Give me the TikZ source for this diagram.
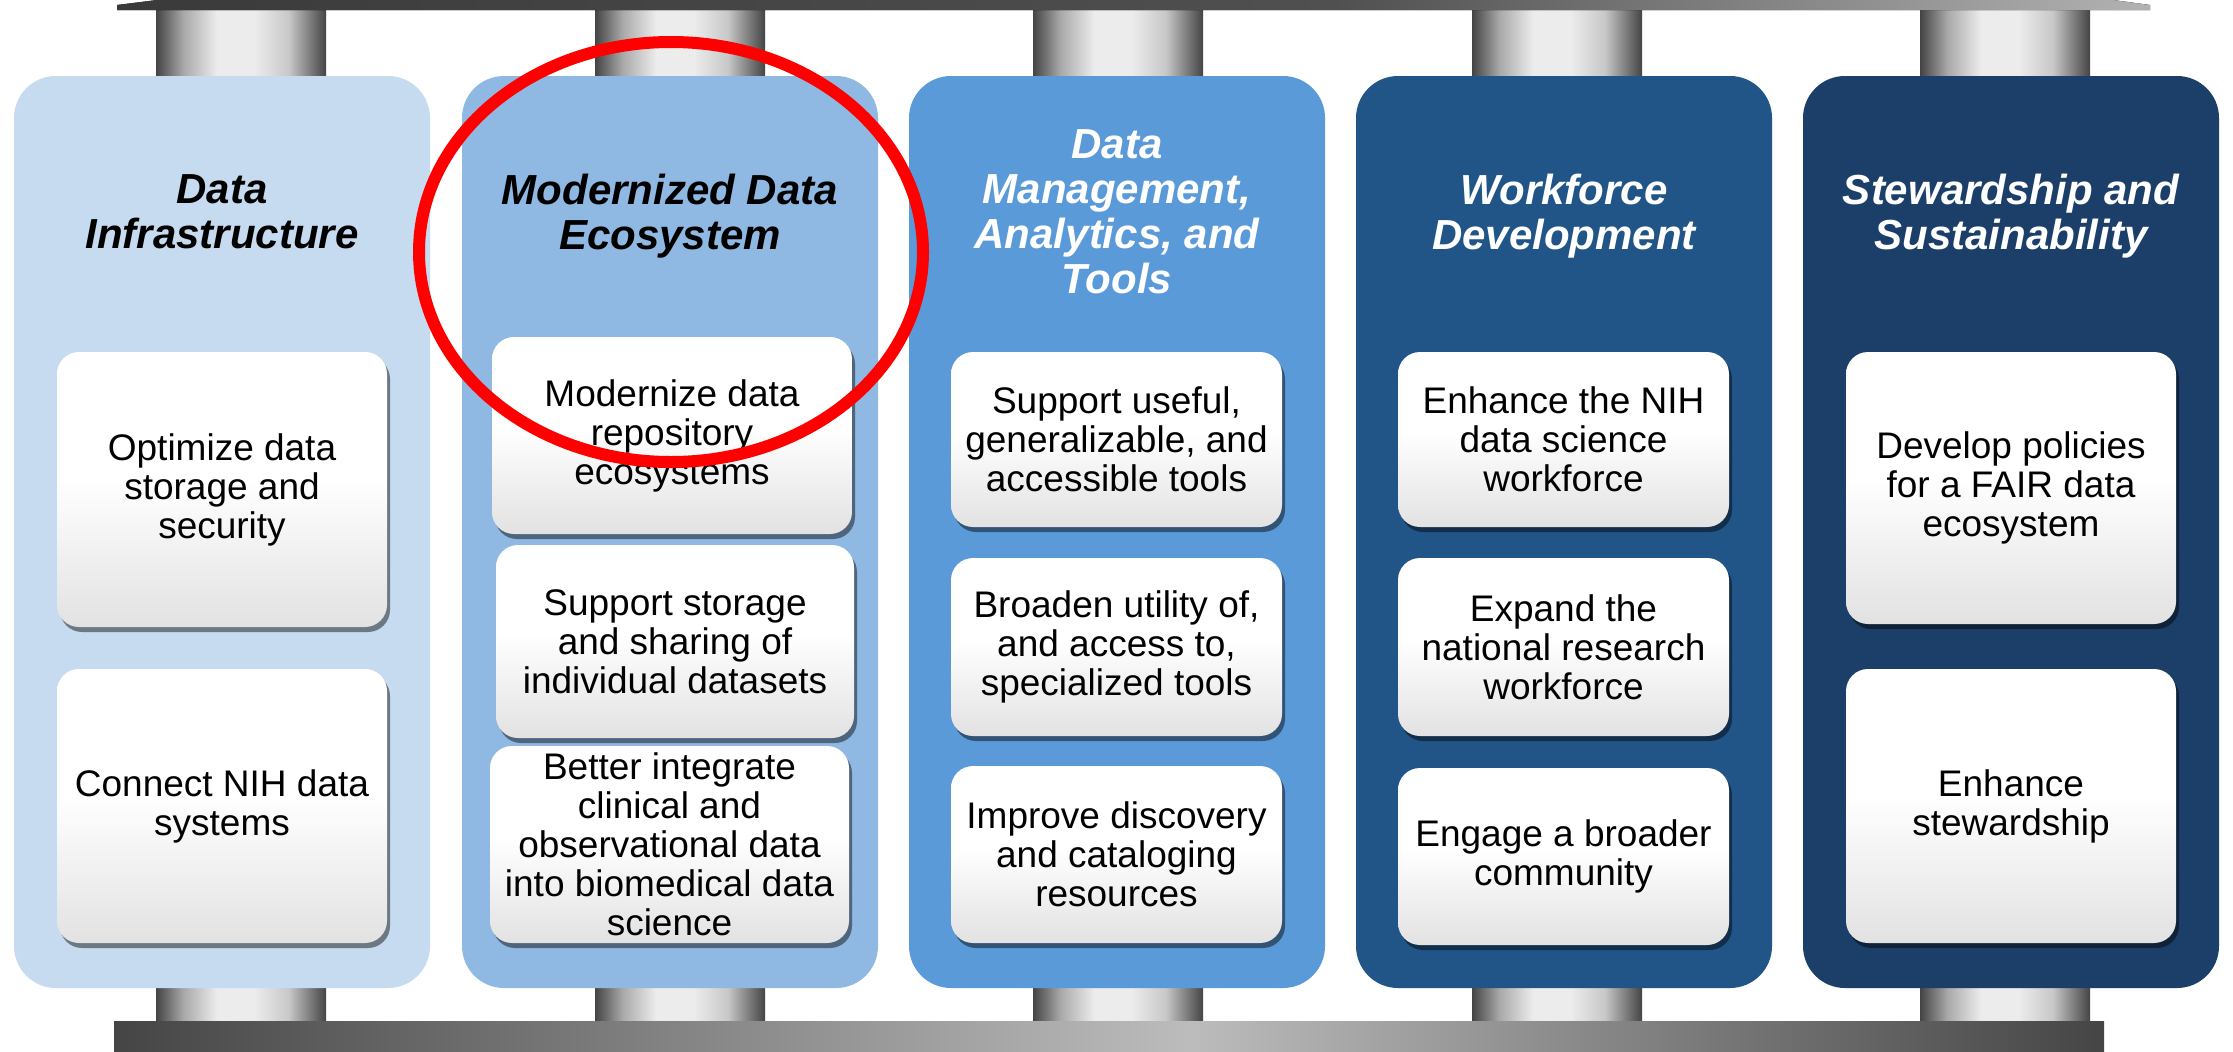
\documentclass[tikz,border=0pt]{standalone}
\usepackage{fontspec}
\setmainfont{Liberation Sans}
\usetikzlibrary{shadows,shapes.geometric}
\definecolor{cA}{HTML}{C6DBF0}
\definecolor{cB}{HTML}{8FB8E2}
\definecolor{cC}{HTML}{5B9AD8}
\definecolor{cD}{HTML}{215588}
\definecolor{cE}{HTML}{1C3F69}
\definecolor{pdark}{HTML}{444444}
\definecolor{pmid}{HTML}{A8A8A8}
\definecolor{plight}{HTML}{ECECEC}
\definecolor{pmidb}{HTML}{C8C8C8}
\definecolor{subbot}{HTML}{E2E2E2}
\definecolor{barA}{HTML}{3A3A3A}
\definecolor{barB}{HTML}{505050}
\definecolor{barC}{HTML}{B2B2B2}
\definecolor{botA}{HTML}{454545}
\definecolor{botB}{HTML}{BCBCBC}
\definecolor{ringred}{HTML}{FF0000}
\pgfdeclarehorizontalshading{pillarshade}{100bp}{color(0bp)=(pdark); color(25bp)=(pdark); color(33bp)=(pmid); color(43bp)=(plight); color(54bp)=(plight); color(64bp)=(pmidb); color(75bp)=(pdark); color(100bp)=(pdark)}
\pgfdeclarehorizontalshading{topbarshade}{100bp}{color(0bp)=(barA); color(25bp)=(barA); color(55bp)=(barB); color(75bp)=(barC); color(100bp)=(barC)}
\pgfdeclarehorizontalshading{botbarshade}{100bp}{color(0bp)=(botA); color(25bp)=(botA); color(52bp)=(botB); color(75bp)=(botA); color(100bp)=(botA)}
\pgfdeclareverticalshading{subshade}{100bp}{color(0bp)=(subbot); color(25bp)=(subbot); color(52bp)=(white); color(100bp)=(white)}
\tikzset{
  colbox/.style={rounded corners=42pt, minimum width=416pt, minimum height=912pt, inner sep=0pt, outer sep=0pt},
  pillar/.style={shading=pillarshade, minimum width=170pt, inner sep=0pt, outer sep=0pt},
  ttl/.style={align=center, font=\fontsize{42}{45}\selectfont\bfseries\itshape, inner sep=0pt},
  subbox/.style={shading=subshade, rounded corners=22pt, align=center, inner sep=0pt,
     font=\fontsize{37}{39}\selectfont,
     drop shadow={shadow xshift=3pt, shadow yshift=-5pt, opacity=0.45, fill=black}},
}
\begin{document}
\begin{tikzpicture}[x=1pt,y=-1pt]
\useasboundingbox (0,0) rectangle (2233,1052);
\fill[white] (0,0) rectangle (2233,1052);
% pillars
\foreach \px [count=\i] in {241,680,1118,1557,2005}{
  \node[pillar, minimum height=80pt] (ptop\i) at (\px,42) {};
  \node[pillar, minimum height=40pt] (pbot\i) at (\px,1003) {};
}
% bars
\fill[shading=topbarshade] (117,10) -- (117,5) -- (157,0) -- (2113,0) -- (2150,5) -- (2150,10) -- cycle;
\node[shading=botbarshade, minimum width=1990pt, minimum height=31pt, inner sep=0pt] (botbar) at (1109,1036.5) {};
% columns
\node[colbox, fill=cA] (col1) at (222,532) {};
\node[colbox, fill=cB] (col2) at (670,532) {};
\node[colbox, fill=cC] (col3) at (1117,532) {};
\node[colbox, fill=cD] (col4) at (1564,532) {};
\node[colbox, fill=cE] (col5) at (2011,532) {};
% titles
\node[ttl] (t1) at (222,212) {Data\\Infrastructure};
\node[ttl] (t2) at (670,216) {Modernized Data\\Ecosystem};
\node[ttl, text=white] (t3) at (1117,212) {Data\\Management,\\Analytics, and\\Tools};
\node[ttl, text=white] (t4) at (1564,216) {Workforce\\Development};
\node[ttl, text=white] (t5) at (2011,216) {Stewardship and\\Sustainability};
% column 1
\node[subbox, minimum width=330pt, minimum height=275pt] (b11) at (222,489.5) {Optimize data\\storage and\\security};
\node[subbox, minimum width=330pt, minimum height=274pt] (b12) at (222,806) {Connect NIH data\\systems};
% column 2
\node[subbox, minimum width=360pt, minimum height=197pt] (b21) at (672,435.5) {Modernize data\\repository\\ecosystems};
\node[subbox, minimum width=358pt, minimum height=193pt] (b22) at (675,641.5) {Support storage\\and sharing of\\individual datasets};
\node[subbox, minimum width=359pt, minimum height=197pt] (b23) at (669.5,844.5) {Better integrate\\clinical and\\observational data\\into biomedical data\\science};
% column 3
\node[subbox, minimum width=331pt, minimum height=175pt] (b31) at (1116.5,439.5) {Support useful,\\generalizable, and\\accessible tools};
\node[subbox, minimum width=331pt, minimum height=178pt] (b32) at (1116.5,647) {Broaden utility of,\\and access to,\\specialized tools};
\node[subbox, minimum width=331pt, minimum height=177pt] (b33) at (1116.5,854.5) {Improve discovery\\and cataloging\\resources};
% column 4
\node[subbox, minimum width=331pt, minimum height=175pt] (b41) at (1563.5,439.5) {Enhance the NIH\\data science\\workforce};
\node[subbox, minimum width=331pt, minimum height=178pt] (b42) at (1563.5,647) {Expand the\\national research\\workforce};
\node[subbox, minimum width=331pt, minimum height=177pt] (b43) at (1563.5,856.5) {Engage a broader\\community};
% column 5
\node[subbox, minimum width=330pt, minimum height=272pt] (b51) at (2011,488) {Develop policies\\for a FAIR data\\ecosystem};
\node[subbox, minimum width=330pt, minimum height=274pt] (b52) at (2011,806) {Enhance\\stewardship};
% red ring
\node[draw=ringred, line width=12pt, ellipse, minimum width=504pt, minimum height=420pt, inner sep=0pt] (ring) at (671,252) {};
\end{tikzpicture}
\end{document}
